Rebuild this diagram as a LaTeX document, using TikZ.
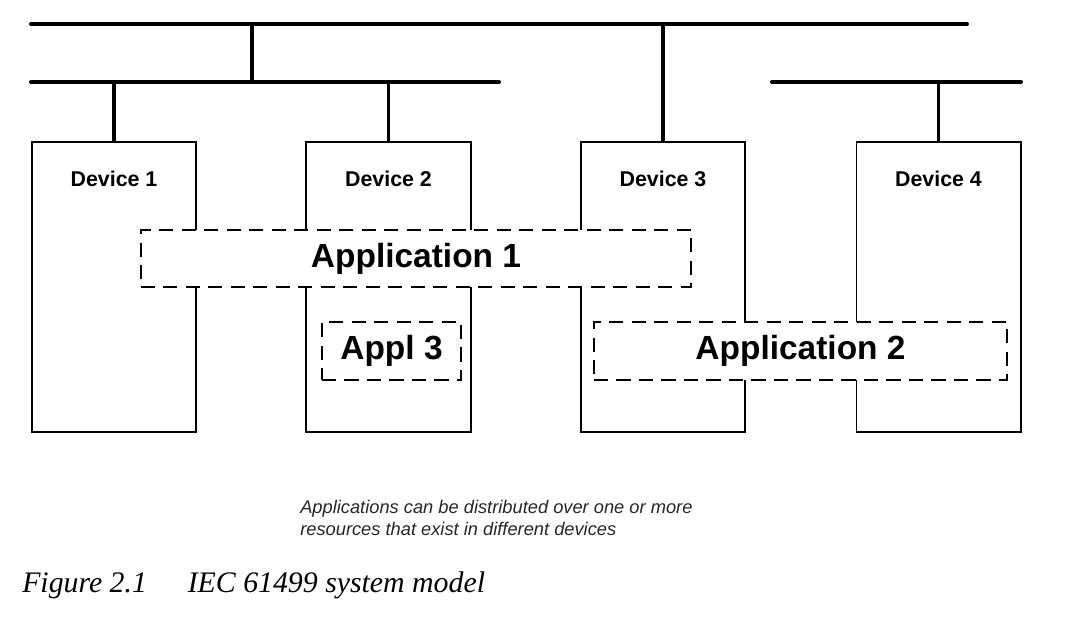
\documentclass[tikz,border=0pt]{standalone}
\usepackage{fontspec}
\setmainfont{Liberation Serif}
\setsansfont{Liberation Sans}
\usetikzlibrary{positioning}

\begin{document}
\begin{tikzpicture}[x=0.025cm,y=-0.025cm,
    bus/.style={line width=2.8pt,line cap=round},
    drop/.style={line width=2.8pt},
    device/.style={draw,line width=1.4pt,minimum width=4.1cm,minimum height=7.25cm,anchor=north,inner sep=0pt},
    devlabel/.style={inner sep=0pt,font=\sffamily\bfseries\fontsize{15.2}{18}\selectfont},
    appbox/.style={draw,fill=white,line width=1.8pt,dash pattern=on 10pt off 6pt,inner sep=0pt,
      font=\sffamily\bfseries\fontsize{23.8}{28}\selectfont}]
  \useasboundingbox (0,0) rectangle (1074,618);
  % networks
  \coordinate (netA west) at (31,24);
  \coordinate (netA east) at (967,24);
  \coordinate (netB west) at (31,82);
  \coordinate (netB east) at (499,82);
  \coordinate (netC west) at (772,82);
  \coordinate (netC east) at (1021,82);
  \coordinate (tap) at (252,24);
  \draw[bus] (netA west) -- (netA east);
  \draw[bus] (netB west) -- (netB east);
  \draw[bus] (netC west) -- (netC east);
  \draw[drop] (tap) -- (tap |- netB west);
  % devices
  \node[device] (dev1) at (114,141) {};
  \node[device] (dev2) at (388.5,141) {};
  \node[device] (dev3) at (663,141) {};
  \node[device] (dev4) at (938.5,141) {};
  \node[devlabel, below=0.74cm of dev1.north] (lab1) {Device 1};
  \node[devlabel, below=0.74cm of dev2.north] (lab2) {Device 2};
  \node[devlabel, below=0.74cm of dev3.north] (lab3) {Device 3};
  \node[devlabel, below=0.74cm of dev4.north] (lab4) {Device 4};
  \draw[drop] (dev1.north) -- (dev1.north |- netB west);
  \draw[drop] (dev2.north) -- (dev2.north |- netB west);
  \draw[drop] (dev3.north) -- (dev3.north |- netA west);
  \draw[drop] (dev4.north) -- (dev4.north |- netC west);
  % applications
  \node[appbox, minimum width=13.75cm, minimum height=1.425cm] (app1) at (416,258.5) {Application 1};
  \node[appbox, minimum width=3.475cm, minimum height=1.45cm] (app3) at (391.5,351) {Appl 3};
  \node[appbox, minimum width=10.325cm, minimum height=1.45cm] (app2) at (800.5,351) {Application 2};
  % notes
  \node[anchor=north west, inner sep=0pt, align=left, text=black!85,
    font=\sffamily\itshape\fontsize{13}{15.6}\selectfont] (note) at (300,500)
    {Applications can be distributed over one or more\\resources that exist in different devices};
  \node[anchor=base west, inner sep=0pt, font=\itshape\fontsize{21.2}{25}\selectfont] (caption) at (22,592)
    {Figure 2.1\hspace{29pt}IEC 61499 system model};
\end{tikzpicture}
\end{document}
